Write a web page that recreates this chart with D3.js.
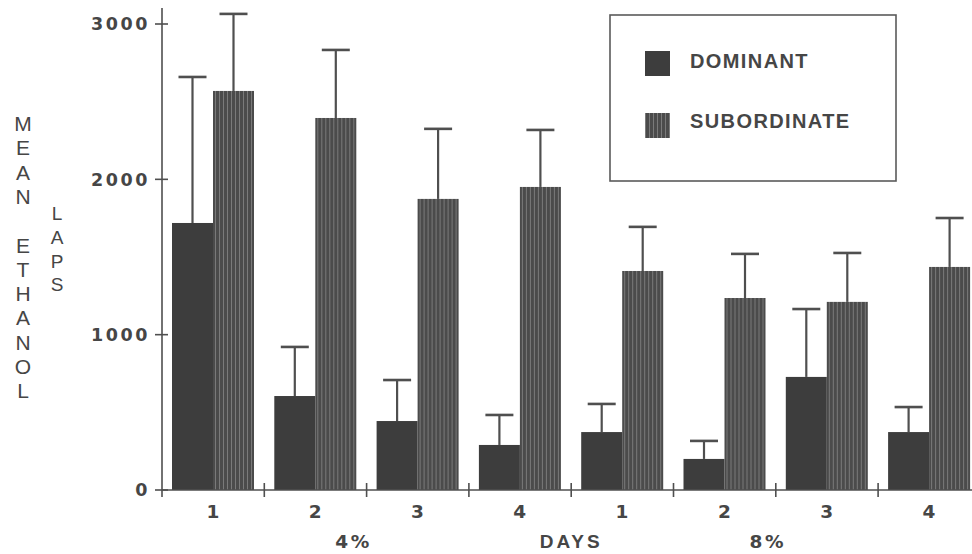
<!DOCTYPE html>
<html>
<head>
<meta charset="utf-8">
<script src="https://cdn.jsdelivr.net/npm/d3@7.9.0/dist/d3.min.js"></script>
<style>
  body { margin: 0; background: #fff; }
  svg { display: block; }
  .num { font-family: "DejaVu Sans", sans-serif; font-weight: bold; font-size: 17.5px; fill: #464646; letter-spacing: 2.6px; }
  .word { font-family: "Liberation Sans", Arial, sans-serif; font-weight: bold; fill: #464646; }
  .vlab { font-family: "Liberation Sans", Arial, sans-serif; fill: #464646; }
</style>
</head>
<body>
<svg id="chart" width="972" height="554"></svg>
<script>
// data
const concentrations = ['4%', '8%'];
const days = ['1', '2', '3', '4'];
const series = ['DOMINANT', 'SUBORDINATE'];
const dominantMean = [1719, 605, 444, 290, 373, 200, 728, 373];
const dominantErr  = [2659, 921, 708, 483, 554, 316, 1165, 534];
const subordinateMean = [2569, 2395, 1874, 1951, 1410, 1236, 1211, 1436];
const subordinateErr  = [3065, 2833, 2325, 2318, 1694, 1520, 1526, 1751];
const yTicks = [0, 1000, 2000, 3000];

const groups = [];
concentrations.forEach((c) => days.forEach((d) => groups.push(c + '-' + d)));

const ink = '#4f4f4f';
const svg = d3.select('#chart');

// stripe pattern for the subordinate bars
const defs = svg.append('defs');
const pat = defs.append('pattern')
  .attr('id', 'stripes')
  .attr('patternUnits', 'userSpaceOnUse')
  .attr('width', 4).attr('height', 10);
pat.append('rect').attr('width', 4).attr('height', 10).attr('fill', '#4b4b4b');
pat.append('rect').attr('x', 1).attr('width', 1).attr('height', 10).attr('fill', '#7a7a7a');

const x = d3.scaleBand().domain(groups).range([162, 162 + 8 * 102.3]);
const xs = d3.scaleBand().domain(series).range([10, 92]);
const y = d3.scaleLinear().domain([0, 3000]).range([490, 24]);

const rows = groups.map((g, i) => ({
  g,
  vals: [
    { s: 'DOMINANT', mean: dominantMean[i], err: dominantErr[i] },
    { s: 'SUBORDINATE', mean: subordinateMean[i], err: subordinateErr[i] }
  ]
}));

const fillFor = (s) => s === 'DOMINANT' ? '#3d3d3d' : 'url(#stripes)';

const grp = svg.selectAll('g.grp')
  .data(rows)
  .join('g')
  .attr('class', 'grp')
  .attr('transform', (d) => `translate(${x(d.g)},0)`);

// error bars first so bars sit on top
grp.selectAll('line.err')
  .data((d) => d.vals)
  .join('line')
  .attr('x1', (d) => xs(d.s) + xs.bandwidth() / 2)
  .attr('x2', (d) => xs(d.s) + xs.bandwidth() / 2)
  .attr('y1', (d) => y(d.mean))
  .attr('y2', (d) => y(d.err))
  .attr('stroke', ink).attr('stroke-width', 2.2);

grp.selectAll('line.cap')
  .data((d) => d.vals)
  .join('line')
  .attr('x1', (d) => xs(d.s) + xs.bandwidth() / 2 - 14)
  .attr('x2', (d) => xs(d.s) + xs.bandwidth() / 2 + 14)
  .attr('y1', (d) => y(d.err))
  .attr('y2', (d) => y(d.err))
  .attr('stroke', ink).attr('stroke-width', 2.6);

grp.selectAll('rect')
  .data((d) => d.vals)
  .join('rect')
  .attr('x', (d) => xs(d.s))
  .attr('width', xs.bandwidth())
  .attr('y', (d) => y(d.mean))
  .attr('height', (d) => y(0) - y(d.mean))
  .attr('fill', (d) => fillFor(d.s));

// y axis
svg.append('line')
  .attr('x1', 162).attr('x2', 162).attr('y1', 8).attr('y2', 497)
  .attr('stroke', ink).attr('stroke-width', 1.6);
svg.selectAll('line.ytick')
  .data(yTicks)
  .join('line')
  .attr('x1', 155).attr('x2', 168)
  .attr('y1', (d) => y(d)).attr('y2', (d) => y(d))
  .attr('stroke', ink).attr('stroke-width', 1.6);
svg.selectAll('text.ytl')
  .data(yTicks)
  .join('text')
  .attr('class', 'num')
  .attr('x', 150)
  .attr('y', (d) => y(d))
  .attr('dy', '0.36em')
  .attr('text-anchor', 'end')
  .text((d) => d);

// x axis
svg.append('line')
  .attr('x1', 162).attr('x2', 972).attr('y1', y(0)).attr('y2', y(0))
  .attr('stroke', ink).attr('stroke-width', 1.6);
svg.selectAll('line.xtick')
  .data(groups.slice(1))
  .join('line')
  .attr('x1', (d) => x(d)).attr('x2', (d) => x(d))
  .attr('y1', 483).attr('y2', 497)
  .attr('stroke', ink).attr('stroke-width', 1.6);
svg.selectAll('text.day')
  .data(groups)
  .join('text')
  .attr('class', 'num')
  .attr('x', (d) => x(d) + x.bandwidth() / 2 + 1)
  .attr('y', 518)
  .attr('text-anchor', 'middle')
  .style('font-size', '18.5px')
  .text((d) => d.split('-')[1]);

svg.append('text').attr('class', 'num')
  .attr('x', x('4%-3') - 13).attr('y', 548).attr('text-anchor', 'middle')
  .style('font-size', '18.5px').text('4%');
svg.append('text').attr('class', 'num')
  .attr('x', x('8%-3') - 8).attr('y', 548).attr('text-anchor', 'middle')
  .style('font-size', '18.5px').text('8%');
svg.append('text').attr('class', 'word')
  .attr('x', x('8%-1')).attr('y', 548).attr('text-anchor', 'middle')
  .style('font-size', '19px').style('letter-spacing', '3px').text('DAYS');

// vertical axis title, one letter per line
const title1 = 'MEAN ETHANOL'.split('');
const title2 = 'LAPS'.split('');
svg.selectAll('text.t1')
  .data(title1)
  .join('text')
  .attr('class', 'vlab')
  .attr('x', 23).attr('y', (d, i) => 131 + i * 24.3)
  .attr('text-anchor', 'middle')
  .style('font-size', '21px')
  .text((d) => d);
svg.selectAll('text.t2')
  .data(title2)
  .join('text')
  .attr('class', 'vlab')
  .attr('x', 57).attr('y', (d, i) => 220 + i * 23.8)
  .attr('text-anchor', 'middle')
  .style('font-size', '19px')
  .text((d) => d);

// legend
const legend = svg.append('g');
legend.append('rect')
  .attr('x', 610).attr('y', 15).attr('width', 286).attr('height', 166)
  .attr('fill', 'none').attr('stroke', '#5a5a5a').attr('stroke-width', 1.6);
series.forEach((s, i) => {
  legend.append('rect')
    .attr('x', 645).attr('y', 51 + i * 62).attr('width', 25).attr('height', 25)
    .attr('fill', fillFor(s));
  legend.append('text')
    .attr('class', 'word')
    .attr('x', 690).attr('y', 68 + i * 60)
    .style('font-size', '20px').style('letter-spacing', '1.4px')
    .text(s);
});
</script>
</body>
</html>
